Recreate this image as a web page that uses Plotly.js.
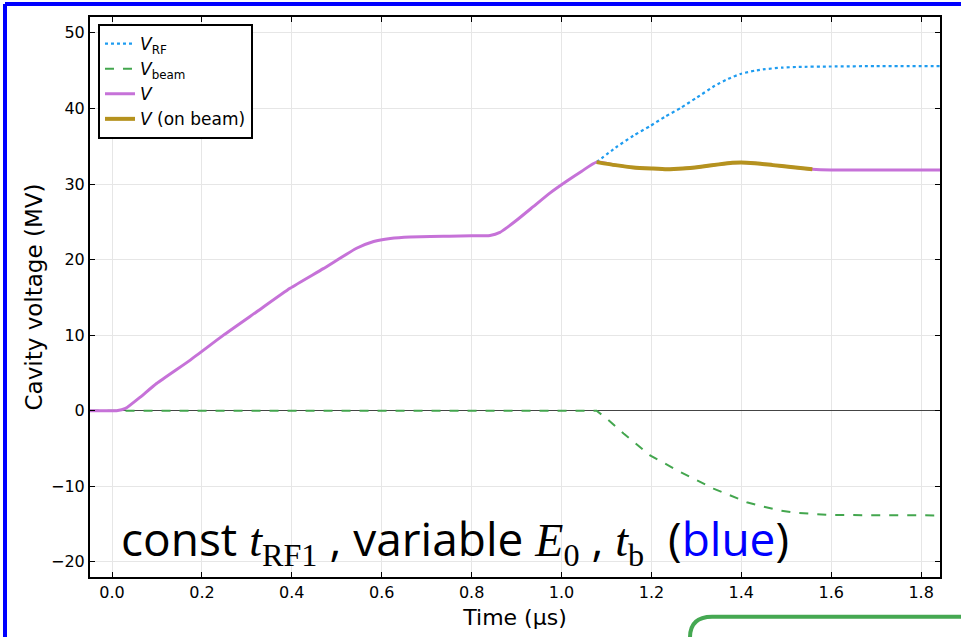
<!DOCTYPE html>
<html>
<head>
<meta charset="utf-8">
<script src="https://cdn.plot.ly/plotly-3.0.1.min.js"></script>
<style>html,body{margin:0;padding:0;background:#fff;}#chart{width:961px;height:637px;}</style>
</head>
<body>
<div id="chart"></div>
<script>
// ---- data (time in µs, voltage in MV) ----
const tV = [-0.05, 0.0, 0.01, 0.03, 0.062, 0.099, 0.174, 0.248, 0.322, 0.396, 0.470, 0.544, 0.582, 0.619, 0.663, 0.75, 0.80, 0.841, 0.863, 0.88, 0.90, 0.937, 0.974, 1.012, 1.045, 1.078,
            1.12, 1.16, 1.2, 1.234, 1.27, 1.31, 1.35, 1.38, 1.40, 1.43, 1.47, 1.51, 1.558, 1.6, 1.7, 1.85];
const vV = [0, 0, 0, 0.3, 1.76, 3.6, 6.7, 10.0, 13.1, 16.2, 18.8, 21.5, 22.4, 22.8, 23.0, 23.1, 23.15, 23.2, 23.6, 24.3, 25.2, 27.0, 28.8, 30.4, 31.7, 32.9,
            32.5, 32.2, 32.05, 31.95, 32.05, 32.3, 32.6, 32.8, 32.85, 32.75, 32.5, 32.25, 31.95, 31.85, 31.85, 31.85];

const tBeamOn = [1.078, 1.12, 1.16, 1.2, 1.234, 1.27, 1.31, 1.35, 1.38, 1.40, 1.43, 1.47, 1.51, 1.558];
const vBeamOn = [32.9, 32.5, 32.2, 32.05, 31.95, 32.05, 32.3, 32.6, 32.8, 32.85, 32.75, 32.5, 32.25, 31.95];

const tRF = [1.078, 1.12, 1.16, 1.198, 1.23, 1.266, 1.30, 1.341, 1.37, 1.40, 1.43, 1.453, 1.49, 1.528, 1.6, 1.7, 1.85];
const vRF = [32.9, 34.8, 36.4, 37.7, 38.9, 40.1, 41.4, 43.0, 43.9, 44.6, 45.0, 45.2, 45.4, 45.5, 45.55, 45.6, 45.6];

const tBeam = [-0.05, 1.078, 1.10, 1.138, 1.197, 1.264, 1.338, 1.412, 1.45, 1.486, 1.52, 1.56, 1.6, 1.85];
const vBeam = [0, 0, -1.0, -3.0, -5.9, -8.1, -10.3, -12.1, -12.7, -13.2, -13.5, -13.7, -13.8, -13.85];

const xTicks = [0.0, 0.2, 0.4, 0.6, 0.8, 1.0, 1.2, 1.4, 1.6, 1.8];
const xTickText = ['0.0', '0.2', '0.4', '0.6', '0.8', '1.0', '1.2', '1.4', '1.6', '1.8'];
const yTicks = [-20, -10, 0, 10, 20, 30, 40, 50];
const yTickText = ['\u221220', '\u221210', '0', '10', '20', '30', '40', '50'];

const names = ['<i>V</i><sub>RF</sub>', '<i>V</i><sub>beam</sub>', '<i>V</i>', '<i>V</i> (on beam)'];

const traces = [
  {x: tRF, y: vRF, name: names[0], mode: 'lines', line: {color: '#1e9cf0', width: 2.2, dash: 'dot', shape: 'spline', smoothing: 0.5}},
  {x: tBeam, y: vBeam, name: names[1], mode: 'lines', line: {color: '#43a64e', width: 2, dash: 'dash', shape: 'linear'}},
  {x: tV, y: vV, name: names[2], mode: 'lines', line: {color: '#c672d8', width: 3, shape: 'spline', smoothing: 0.5}},
  {x: tBeamOn, y: vBeamOn, name: names[3], mode: 'lines', line: {color: '#b5921e', width: 4, shape: 'spline', smoothing: 0.5}}
];

const serif = "font-family:'Liberation Serif','DejaVu Serif',serif";
const layout = {
  width: 961, height: 637,
  margin: {l: 90, r: 21, t: 17, b: 60},
  paper_bgcolor: '#ffffff', plot_bgcolor: '#ffffff',
  font: {family: 'DejaVu Sans, sans-serif', color: '#000', size: 16},
  showlegend: true,
  legend: {x: 0.0094, y: 0.9875, xanchor: 'left', yanchor: 'top', bgcolor: '#fff',
           bordercolor: '#000', borderwidth: 2, font: {size: 17, family: 'DejaVu Sans, sans-serif'},
           tracegroupgap: 0},
  xaxis: {range: [-0.049, 1.842], tickvals: xTicks, ticktext: xTickText,
          ticks: 'inside', ticklen: 5, tickcolor: '#000', mirror: 'allticks',
          showline: true, linecolor: '#000', linewidth: 2,
          showgrid: true, gridcolor: '#e6e6e6', gridwidth: 1, zeroline: false,
          tickfont: {size: 16}, title: {text: 'Time (\u00b5s)', font: {size: 22}, standoff: 8}},
  yaxis: {range: [-22.0, 52.1], tickvals: yTicks, ticktext: yTickText,
          ticks: 'inside', ticklen: 5, tickcolor: '#000', mirror: 'allticks',
          showline: true, linecolor: '#000', linewidth: 2,
          showgrid: true, gridcolor: '#e6e6e6', gridwidth: 1,
          zeroline: true, zerolinecolor: '#444', zerolinewidth: 1,
          tickfont: {size: 16}, title: {text: 'Cavity voltage (MV)', font: {size: 23}, standoff: 2}},
  annotations: [{
    xref: 'paper', yref: 'paper', x: 0.429, y: 0.066, xanchor: 'center', yanchor: 'middle',
    showarrow: false,
    font: {size: 46, family: 'Open Sans, Noto Sans, sans-serif', color: '#000'},
    text: "const <span style=\"" + serif + "\"><i>t</i><sub>RF1</sub></span> , variable <span style=\"" + serif + "\"><i>E</i><sub>0</sub></span> , <span style=\"" + serif + "\"><i>t</i><sub>b</sub></span>  (<span style=\"color:#0000ff\">blue</span>)"
  }],
  shapes: [
    // blue frame (top and left)
    {type: 'line', xref: 'paper', yref: 'paper', x0: -0.1, x1: 1.03, y0: 1.0234, y1: 1.0234, line: {color: '#0000ff', width: 4}},
    {type: 'line', xref: 'paper', yref: 'paper', x0: -0.1, x1: -0.1, y0: 1.0234, y1: -0.12, line: {color: '#0000ff', width: 4}},
    // green rounded box corner
    {type: 'path', xref: 'paper', yref: 'paper',
     path: 'M 0.7059,-0.115 L 0.7059,-0.108 Q 0.7059,-0.0709 0.7318,-0.0709 L 1.04,-0.0709',
     line: {color: '#45a852', width: 4}}
  ]
};

Plotly.newPlot('chart', traces, layout, {displayModeBar: false, staticPlot: true});
</script>
</body>
</html>
